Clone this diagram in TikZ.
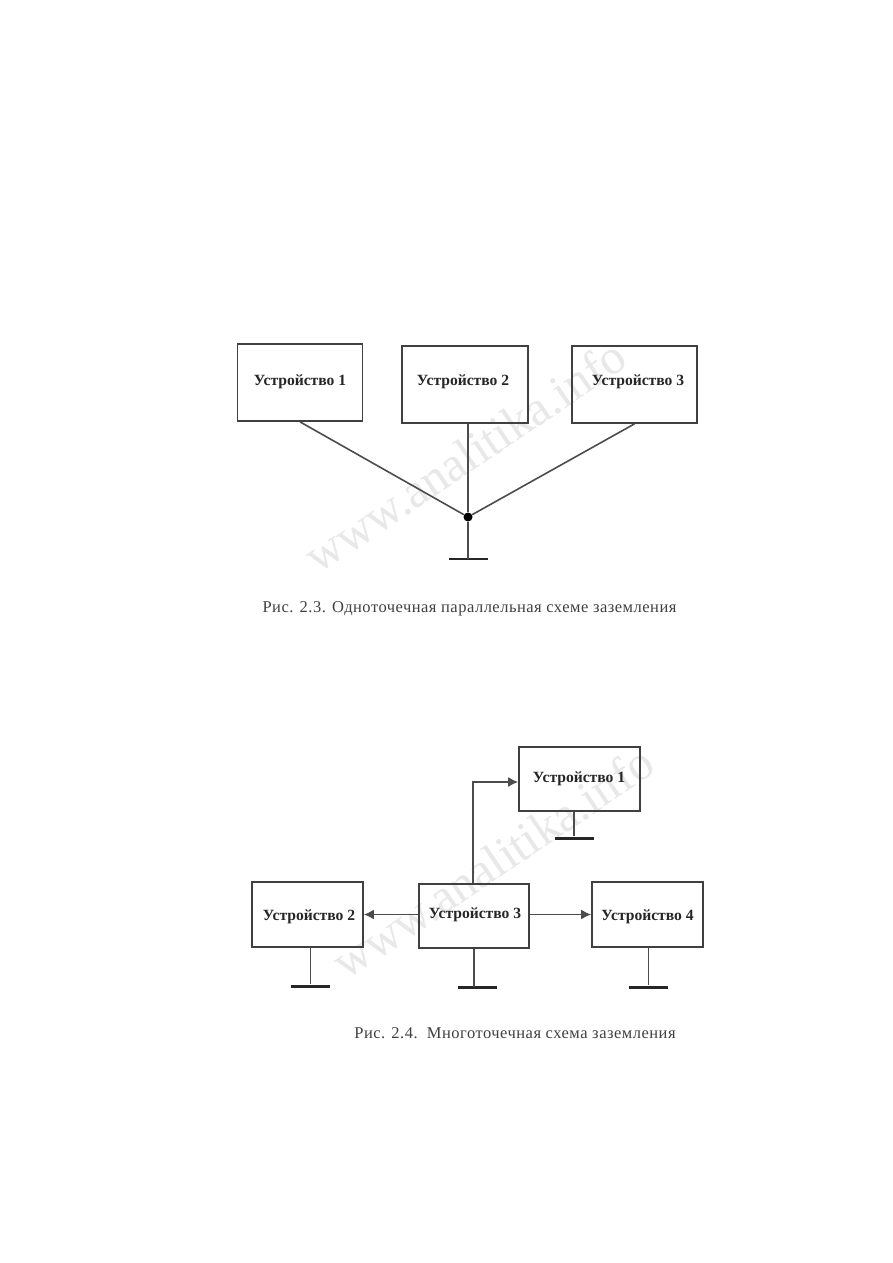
\documentclass[tikz,border=0pt]{standalone}
\usepackage{fontspec}
\setmainfont{Liberation Serif}
\usetikzlibrary{arrows.meta}

\tikzset{
  devbox/.style 2 args={draw=black!75,line width=1.7pt,inner sep=0pt,minimum width=#1,minimum height=#2},
  devtext/.style={font=\fontsize{15.6}{18}\selectfont\bfseries,text=black!85,inner sep=0pt},
  captext/.style={font=\fontsize{16.5}{19}\selectfont\addfontfeature{LetterSpace=3},text=black!75,inner sep=0pt},
  mark text/.style={font=\fontsize{49}{54}\selectfont,text=black!9,inner sep=0pt,rotate=34},
  wire/.style={draw=black!70,line width=1.6pt},
  arrow wire/.style={wire,-{Latex[length=10pt,width=10pt]}},
  gnd/.style={fill=black!85,inner sep=0pt,minimum width=39pt,minimum height=3pt},
  joint/.style={circle,fill=black,inner sep=0pt,minimum width=9pt,minimum height=7pt}
}

\begin{document}
\begin{tikzpicture}[x=1pt,y=-1pt]

\useasboundingbox[fill=white] (0,0) rectangle (893,1263);

% watermarks
\node[mark text] (markA) at (465,456) {www.analitika.info};
\node[mark text] (markB) at (493,862) {www.analitika.info};

% upper figure
\node[devbox={125pt}{77pt}] (devA) at (300,382.5) {};
\node[devbox={126pt}{77pt}] (devB) at (465,384.5) {};
\node[devbox={125pt}{77pt}] (devC) at (634.5,384.5) {};
\node[devtext] (txtA) at (300,381.5) {Устройство 1};
\node[devtext] (txtB) at (463,381.5) {Устройство 2};
\node[devtext] (txtC) at (638,381.5) {Устройство 3};
\node[joint] (dot) at (468,517) {};
\node[gnd,minimum height=2pt] (gndA) at (468.5,559) {};
\draw[wire] (devA.south) -- (dot);
\draw[wire] (devC.south) -- (dot);
\draw[wire] (dot |- devB.south) -- (dot);
\draw[wire] (dot) -- (dot |- gndA);
\node[captext] (capA) at (469.5,609) {Рис. 2.3. Одноточечная параллельная схеме заземления};

% lower figure
\node[devbox={121pt}{64pt}] (devD) at (579.5,779) {};
\node[devbox={111pt}{65pt}] (devE) at (307.5,914.5) {};
\node[devbox={110pt}{64pt}] (devF) at (474,916) {};
\node[devbox={111pt}{65pt}] (devG) at (647.5,914.5) {};
\node[devtext] (txtD) at (579,779) {Устройство 1};
\node[devtext] (txtE) at (309,916.5) {Устройство 2};
\node[devtext] (txtF) at (475,914.5) {Устройство 3};
\node[devtext] (txtG) at (647.5,916.5) {Устройство 4};
\node[gnd] (gndD) at (574,838) {};
\node[gnd] (gndE) at (310.5,986) {};
\node[gnd] (gndF) at (477,987) {};
\node[gnd] (gndG) at (648.5,987) {};
\coordinate (turn) at (473,782);
\draw[arrow wire] (turn |- devF.north) -- (turn) -- (turn -| devD.west);
\draw[arrow wire] (devF.west |- devE.east) -- (devE.east);
\draw[arrow wire] (devF.east |- devG.west) -- (devG.west);
\draw[wire] (gndD |- devD.south) -- (gndD);
\draw[wire] (gndE |- devE.south) -- (gndE);
\draw[wire] (devF.south) -- (devF.south |- gndF);
\draw[wire] (gndG |- devG.south) -- (gndG);
\node[captext] (capB) at (515,1033) {Рис. 2.4.\ \ Многоточечная схема заземления};

\end{tikzpicture}
\end{document}
